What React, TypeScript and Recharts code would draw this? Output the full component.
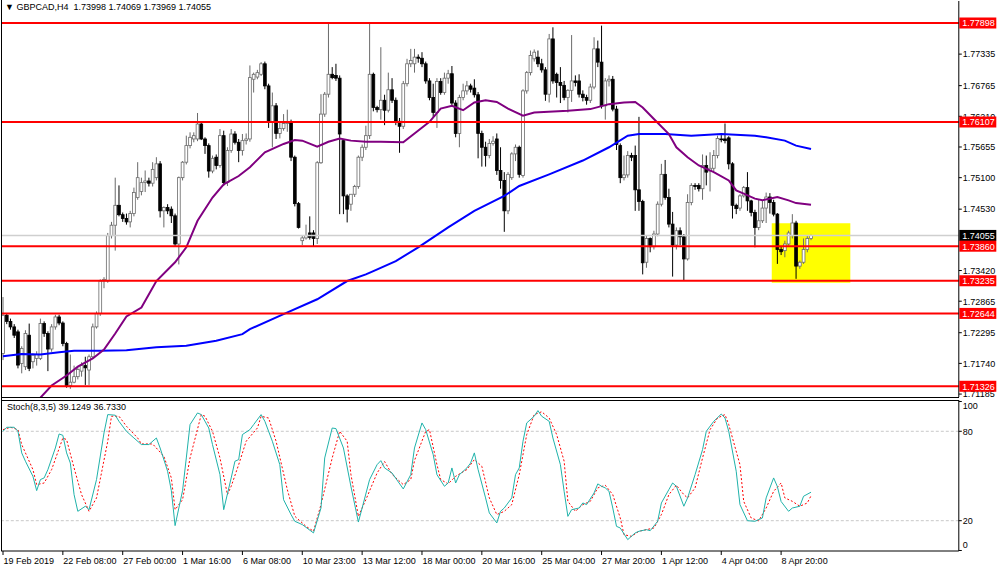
import React from 'react';
import { ComposedChart, Bar, Line, XAxis, YAxis, ReferenceLine, ReferenceArea } from 'recharts';

// [open, high, low, close] per H4 bar
const ohlc: number[][] = [
  [1.7192,1.7294,1.7180,1.7261],[1.7261,1.7265,1.7245,1.7250],[1.7250,1.7255,1.7235,1.7240],[1.7240,1.7245,1.7220,1.7225],
  [1.7231,1.7235,1.7165,1.7171],[1.7174,1.7205,1.7156,1.7201],[1.7168,1.7234,1.7162,1.7228],[1.7225,1.7246,1.7160,1.7165],
  [1.7177,1.7192,1.7165,1.7189],[1.7183,1.7196,1.7170,1.7190],[1.7183,1.7255,1.7180,1.7246],[1.7246,1.7250,1.7222,1.7228],
  [1.7228,1.7232,1.7160,1.7200],[1.7200,1.7245,1.7195,1.7240],[1.7240,1.7262,1.7235,1.7258],[1.7258,1.7262,1.7243,1.7247],
  [1.7247,1.7250,1.7205,1.7210],[1.7210,1.7213,1.7130,1.7134],[1.7134,1.7190,1.7128,1.7140],[1.7140,1.7170,1.7138,1.7150],
  [1.7150,1.7167,1.7145,1.7163],[1.7160,1.7176,1.7150,1.7170],[1.7170,1.7186,1.7135,1.7166],[1.7162,1.7190,1.7135,1.7186],
  [1.7186,1.7246,1.7183,1.7240],[1.7240,1.7268,1.7237,1.7264],[1.7264,1.7326,1.7260,1.7323],[1.7323,1.7330,1.7310,1.7326],
  [1.7323,1.7410,1.7320,1.7405],[1.7405,1.7430,1.7400,1.7424],[1.7424,1.7510,1.7378,1.7460],[1.7460,1.7496,1.7440,1.7443],
  [1.7443,1.7447,1.7430,1.7436],[1.7436,1.7445,1.7425,1.7430],[1.7430,1.7450,1.7420,1.7445],[1.7445,1.7492,1.7440,1.7483],
  [1.7474,1.7538,1.7470,1.7510],[1.7485,1.7510,1.7478,1.7501],[1.7501,1.7523,1.7484,1.7504],[1.7504,1.7510,1.7494,1.7500],
  [1.7500,1.7538,1.7494,1.7525],[1.7510,1.7547,1.7505,1.7535],[1.7535,1.7540,1.7438,1.7450],[1.7450,1.7458,1.7420,1.7456],
  [1.7456,1.7462,1.7444,1.7450],[1.7453,1.7458,1.7428,1.7441],[1.7441,1.7445,1.7385,1.7390],[1.7390,1.7512,1.7353,1.7510],
  [1.7510,1.7540,1.7505,1.7538],[1.7538,1.7586,1.7534,1.7568],[1.7568,1.7592,1.7563,1.7583],[1.7580,1.7592,1.7574,1.7586],
  [1.7580,1.7627,1.7576,1.7607],[1.7607,1.7610,1.7578,1.7580],[1.7580,1.7583,1.7553,1.7568],[1.7568,1.7572,1.7510,1.7522],
  [1.7522,1.7550,1.7518,1.7545],[1.7547,1.7552,1.7525,1.7532],[1.7532,1.7598,1.7528,1.7586],[1.7586,1.7595,1.7495,1.7501],
  [1.7501,1.7565,1.7495,1.7559],[1.7559,1.7598,1.7555,1.7589],[1.7589,1.7594,1.7570,1.7574],[1.7574,1.7580,1.7538,1.7559],
  [1.7559,1.7589,1.7550,1.7577],[1.7577,1.7590,1.7570,1.7580],[1.7580,1.7713,1.7575,1.7691],[1.7688,1.7700,1.7664,1.7697],
  [1.7692,1.7705,1.7688,1.7700],[1.7697,1.7719,1.7694,1.7716],[1.7716,1.7720,1.7670,1.7676],[1.7676,1.7680,1.7600,1.7610],
  [1.7610,1.7664,1.7565,1.7640],[1.7640,1.7645,1.7580,1.7590],[1.7590,1.7610,1.7581,1.7599],[1.7599,1.7625,1.7595,1.7608],
  [1.7608,1.7633,1.7593,1.7610],[1.7610,1.7615,1.7540,1.7547],[1.7547,1.7550,1.7458,1.7463],[1.7463,1.7466,1.7418,1.7420],
  [1.7396,1.7405,1.7388,1.7401],[1.7401,1.7425,1.7398,1.7405],[1.7410,1.7440,1.7398,1.7402],[1.7410,1.7415,1.7385,1.7400],
  [1.7400,1.7540,1.7390,1.7537],[1.7537,1.7661,1.7535,1.7625],[1.7625,1.7665,1.7620,1.7661],[1.7661,1.7788,1.7655,1.7697],
  [1.7697,1.7710,1.7688,1.7691],[1.7695,1.7716,1.7685,1.7690],[1.7690,1.7695,1.7444,1.7589],[1.7577,1.7580,1.7444,1.7477],
  [1.7477,1.7480,1.7429,1.7453],[1.7462,1.7480,1.7450,1.7480],[1.7480,1.7497,1.7475,1.7494],[1.7494,1.7550,1.7490,1.7547],
  [1.7547,1.7570,1.7540,1.7565],[1.7565,1.7604,1.7560,1.7586],[1.7586,1.7788,1.7580,1.7697],[1.7697,1.7700,1.7630,1.7637],
  [1.7637,1.7640,1.7628,1.7633],[1.7633,1.7746,1.7615,1.7650],[1.7650,1.7660,1.7605,1.7632],[1.7632,1.7700,1.7628,1.7669],
  [1.7669,1.7690,1.7645,1.7650],[1.7650,1.7655,1.7605,1.7612],[1.7612,1.7618,1.7555,1.7603],[1.7603,1.7685,1.7598,1.7680],
  [1.7680,1.7725,1.7675,1.7716],[1.7716,1.7743,1.7710,1.7722],[1.7716,1.7743,1.7700,1.7728],[1.7728,1.7733,1.7718,1.7726],
  [1.7726,1.7737,1.7710,1.7716],[1.7716,1.7720,1.7680,1.7685],[1.7685,1.7690,1.7650,1.7655],[1.7655,1.7680,1.7620,1.7628],
  [1.7628,1.7690,1.7600,1.7684],[1.7684,1.7690,1.7660,1.7664],[1.7664,1.7700,1.7660,1.7690],[1.7690,1.7705,1.7680,1.7698],
  [1.7698,1.7712,1.7640,1.7645],[1.7645,1.7650,1.7583,1.7590],[1.7590,1.7660,1.7565,1.7655],[1.7655,1.7680,1.7650,1.7667],
  [1.7667,1.7685,1.7660,1.7676],[1.7676,1.7680,1.7664,1.7670],[1.7672,1.7688,1.7655,1.7660],[1.7660,1.7665,1.7545,1.7590],
  [1.7590,1.7595,1.7530,1.7565],[1.7565,1.7575,1.7530,1.7550],[1.7550,1.7580,1.7545,1.7572],[1.7572,1.7585,1.7568,1.7576],
  [1.7580,1.7590,1.7515,1.7523],[1.7523,1.7565,1.7490,1.7505],[1.7505,1.7520,1.7412,1.7450],[1.7450,1.7520,1.7444,1.7516],
  [1.7510,1.7556,1.7506,1.7553],[1.7553,1.7570,1.7540,1.7565],[1.7565,1.7568,1.7510,1.7516],[1.7514,1.7670,1.7510,1.7667],
  [1.7667,1.7703,1.7662,1.7700],[1.7700,1.7740,1.7695,1.7731],[1.7725,1.7742,1.7720,1.7737],[1.7728,1.7740,1.7710,1.7716],
  [1.7716,1.7725,1.7700,1.7705],[1.7705,1.7710,1.7649,1.7661],[1.7661,1.7770,1.7646,1.7761],[1.7761,1.7782,1.7680,1.7685],
  [1.7697,1.7700,1.7655,1.7682],[1.7682,1.7710,1.7645,1.7677],[1.7677,1.7685,1.7650,1.7655],[1.7655,1.7670,1.7628,1.7668],
  [1.7668,1.7768,1.7647,1.7685],[1.7685,1.7695,1.7675,1.7682],[1.7685,1.7697,1.7655,1.7661],[1.7661,1.7668,1.7648,1.7655],
  [1.7655,1.7660,1.7642,1.7650],[1.7650,1.7680,1.7645,1.7674],[1.7674,1.7764,1.7670,1.7743],[1.7743,1.7758,1.7710,1.7719],
  [1.7719,1.7785,1.7635,1.7640],[1.7640,1.7690,1.7615,1.7685],[1.7685,1.7695,1.7675,1.7688],[1.7688,1.7694,1.7630,1.7634],
  [1.7634,1.7640,1.7560,1.7570],[1.7568,1.7572,1.7500,1.7510],[1.7510,1.7550,1.7505,1.7515],[1.7515,1.7558,1.7510,1.7550],
  [1.7550,1.7555,1.7540,1.7547],[1.7550,1.7568,1.7450,1.7488],[1.7488,1.7620,1.7450,1.7467],[1.7467,1.7470,1.7335,1.7356],
  [1.7357,1.7405,1.7347,1.7400],[1.7400,1.7402,1.7375,1.7385],[1.7385,1.7414,1.7380,1.7408],[1.7408,1.7467,1.7404,1.7462],
  [1.7462,1.7535,1.7458,1.7516],[1.7516,1.7542,1.7470,1.7474],[1.7474,1.7490,1.7420,1.7426],[1.7426,1.7448,1.7331,1.7388],
  [1.7388,1.7420,1.7380,1.7414],[1.7414,1.7420,1.7388,1.7403],[1.7403,1.7408,1.7323,1.7363],[1.7363,1.7480,1.7360,1.7465],
  [1.7465,1.7500,1.7460,1.7496],[1.7496,1.7500,1.7488,1.7494],[1.7496,1.7500,1.7485,1.7490],[1.7490,1.7552,1.7470,1.7532],
  [1.7532,1.7550,1.7496,1.7520],[1.7522,1.7556,1.7485,1.7527],[1.7527,1.7560,1.7522,1.7550],[1.7550,1.7586,1.7545,1.7581],
  [1.7580,1.7587,1.7574,1.7579],[1.7580,1.7608,1.7572,1.7577],[1.7582,1.7585,1.7525,1.7535],[1.7535,1.7538,1.7436,1.7460],
  [1.7460,1.7463,1.7444,1.7454],[1.7455,1.7480,1.7450,1.7477],[1.7477,1.7495,1.7474,1.7492],[1.7492,1.7520,1.7450,1.7468],
  [1.7468,1.7470,1.7440,1.7447],[1.7447,1.7452,1.7384,1.7420],[1.7420,1.7470,1.7415,1.7432],[1.7432,1.7468,1.7428,1.7455],
  [1.7455,1.7483,1.7428,1.7475],[1.7475,1.7482,1.7445,1.7465],[1.7465,1.7470,1.7440,1.7444],[1.7444,1.7446,1.7354,1.7380],
  [1.7380,1.7385,1.7370,1.7376],[1.7378,1.7396,1.7366,1.7390],[1.7390,1.7414,1.7387,1.7410],[1.7405,1.7444,1.7400,1.7428],
  [1.7428,1.7432,1.7327,1.7350],[1.7350,1.7360,1.7345,1.7357],[1.7357,1.7400,1.7354,1.7380],[1.7380,1.7405,1.7375,1.7400],
  [1.73998,1.74069,1.73969,1.74055],
];

// [bar index, value] samples of the moving averages
const purpleMA: number[][] = [
  [10,1.7112],[13,1.7134],[17,1.7152],[20,1.7168],[24,1.7183],[27,1.7199],[30,1.7228],[33,1.7259],[37,1.7275],[41,1.7323],
  [46,1.7357],[49,1.7384],[52,1.7432],[56,1.7474],[59,1.7498],[63,1.7513],[66,1.7529],[70,1.7556],[75,1.7571],[78,1.7578],
  [80,1.7577],[84,1.7566],[87,1.7575],[90,1.7581],[93,1.7577],[97,1.7575],[101,1.7575],[107,1.7574],[110,1.7590],[114,1.7611],
  [117,1.7635],[120,1.7640],[123,1.7632],[126,1.7646],[129,1.7650],[132,1.7647],[135,1.7635],[139,1.7622],[142,1.7628],
  [151,1.7631],[157,1.7634],[162,1.7643],[166,1.7646],[169,1.7647],[171,1.7637],[174,1.7616],[178,1.7589],[180,1.7565],
  [183,1.7547],[186,1.7532],[190,1.7520],[194,1.7505],[196,1.7487],[198,1.7481],[201,1.7472],[203,1.7469],[207,1.7475],
  [210,1.7469],[212,1.7464],[216,1.7461],
];
const blueMA: number[][] = [
  [0,1.7187],[5,1.7191],[10,1.7190],[15,1.7194],[19,1.7197],[26,1.7197],[33,1.7198],[41,1.7203],[49,1.7206],[57,1.7215],
  [64,1.7227],[66,1.7236],[75,1.7263],[84,1.7290],[92,1.7323],[97,1.7335],[99,1.7341],[105,1.7359],[111,1.7384],[119,1.7420],
  [126,1.7450],[134,1.7477],[138,1.7495],[146,1.7516],[155,1.7541],[162,1.7565],[167,1.7586],[170,1.7589],[177,1.7589],
  [184,1.7586],[192,1.7589],[201,1.7586],[204,1.7583],[209,1.7577],[212,1.7568],[216,1.7562],
];

// Stochastic (8,3,5): [bar index, value]
const stochK: number[][] = [
  [0,80],[1,82.7],[3,82.7],[4,80],[5,65.5],[6,59.9],[8,49.8],[9,40.2],[10,47.6],[11,48.7],[12,54.3],[14,68.8],[15,78.2],
  [16,77.3],[17,65.5],[18,58.7],[19,37.5],[20,26.3],[22,29.7],[23,27.4],[25,47.6],[27,78.9],[28,91.2],[30,90.8],[31,86.7],
  [33,80],[35,75.5],[37,71.1],[39,71.1],[41,75.5],[42,68.8],[44,53.2],[45,40.2],[46,16.7],[48,40.2],[49,62.1],[50,84.5],
  [52,92.3],[53,91.2],[55,82.2],[56,71.1],[58,50.9],[59,27.4],[61,48.7],[62,59.9],[63,61],[64,77.8],[66,81.1],[67,84.5],
  [69,91.2],[70,86.7],[72,73.3],[74,57.6],[75,34.1],[77,24.1],[78,19.6],[80,17.4],[83,11.8],[85,28.5],[86,62.1],[88,82.2],
  [89,81.8],[91,68.8],[93,43.1],[95,19.1],[96,28.5],[98,47.6],[100,57.6],[101,60.3],[102,55.4],[104,52],[107,41.3],[109,50.9],
  [110,68.8],[112,85.6],[113,81.1],[115,64.3],[116,50.9],[118,43.1],[119,45.3],[120,55.4],[121,45.3],[122,50.9],[124,55.4],
  [125,58.7],[126,65.5],[127,54.3],[129,35.3],[130,25.2],[132,18.5],[133,26.3],[134,28.5],[136,35.3],[137,50.9],[138,55.4],
  [139,73.3],[140,85.6],[142,90.1],[143,93.9],[144,90.1],[146,86.7],[147,75.5],[149,57.6],[150,39.7],[151,22.9],[152,27.4],
  [154,28.5],[155,31.9],[156,30.8],[158,38.6],[159,44.7],[160,43.1],[161,42],[162,39.7],[163,28.5],[164,16.2],[165,15.1],
  [167,7.3],[169,11.8],[170,12.9],[172,14],[173,13.3],[175,19.6],[176,31.9],[178,40.9],[179,45.3],[180,43.1],[182,29.7],
  [183,35.3],[185,50.9],[187,67.7],[188,80],[190,86.7],[192,91.6],[193,88.9],[194,80],[196,53.2],[197,30.8],[199,20],
  [201,19.6],[203,21.8],[204,35.3],[206,48.7],[207,42.9],[208,32.9],[210,26.3],[211,28.5],[213,29.7],[214,36.4],[216,39.1249],
];
const stochD: number[][] = [
  [0,81.1],[2,82.7],[4,81.1],[5,71.1],[8,54.3],[9,44.2],[11,45.3],[13,54.3],[16,75.5],[17,74.4],[19,55.4],[21,37.5],
  [23,26.3],[25,35.3],[28,73.3],[29,90.1],[31,90.1],[33,83.4],[36,75.5],[37,71.5],[40,71.5],[43,63.2],[45,48.7],[46,27.4],
  [48,34.1],[50,62.1],[53,91.2],[54,90.1],[56,80],[58,62.1],[60,37.5],[61,43.1],[63,57.6],[65,73.3],[68,82.2],[69,90.1],
  [71,88.9],[73,73.3],[76,40.9],[78,23],[81,16.2],[83,12.9],[85,30.8],[88,62.1],[90,80],[92,73.3],[93,51.1],[95,22.9],
  [97,34.1],[100,52],[102,59.7],[104,51.1],[107,44.2],[109,47.6],[110,60.4],[113,80],[114,81.1],[116,57.6],[117,47.6],
  [119,44.7],[121,49.8],[124,54.3],[126,61],[128,56.5],[130,35.3],[132,24.1],[134,26.3],[136,30.8],[138,50.9],[140,77.8],
  [142,91.2],[144,93.1],[146,88.9],[148,77.8],[150,59.9],[151,33],[153,26.3],[155,30.8],[157,33],[159,42],[161,43.8],
  [163,37.5],[165,21.8],[166,10.6],[168,9.5],[170,12.9],[172,14],[174,15.1],[176,24.1],[178,37.5],[180,43.8],[182,37.5],
  [183,35.3],[185,42],[187,62.1],[189,81.1],[191,88.9],[193,91.2],[194,84.5],[197,57.6],[198,33],[200,21.8],[202,19.9],
  [204,28.5],[206,39.7],[208,45.3],[209,35.3],[211,33],[213,29.7],[215,31.9],[216,36.733],
];

const redLevels = [1.77898, 1.76107, 1.7386, 1.73235, 1.72644, 1.71326];
const priceTicks = [1.77335, 1.76765, 1.7621, 1.75655, 1.751, 1.7453, 1.7342, 1.72865, 1.72295, 1.7174, 1.71185];
const lastPrice = 1.74055;
const stochTicks = [100, 80, 20, 0];
const stochLevels = [80, 20];
const dateLabels = ['19 Feb 2019', '22 Feb 08:00', '27 Feb 00:00', '1 Mar 16:00', '6 Mar 08:00', '10 Mar 23:00',
  '13 Mar 12:00', '18 Mar 00:00', '20 Mar 16:00', '25 Mar 04:00', '27 Mar 20:00', '1 Apr 12:00', '4 Apr 04:00', '8 Apr 20:00'];
const zoneBars = [206, 226];
const zonePrices = [1.7320, 1.74275];

const SLOTS = 256;
const FONT = "'Liberation Sans', Arial, sans-serif";
const AXIS_X = 1000 - 41.2;

const rows: any[] = Array.from({ length: SLOTS }, (_, i) => {
  const c = ohlc[i];
  return c
    ? { i, o: c[0], h: c[1], l: c[2], c: c[3], range: [c[2], c[1]] }
    : { i, range: null };
});
purpleMA.forEach(([b, v]) => { rows[b].pma = v; });
blueMA.forEach(([b, v]) => { rows[b].bma = v; });
stochK.forEach(([b, v]) => { rows[b].k = v; });
stochD.forEach(([b, v]) => { rows[b].d = v; });

const Candle = (props: any) => {
  const { x, y, width, height, payload } = props;
  if (!payload || payload.o == null || !isFinite(y) || !isFinite(height)) return null;
  const { o, h, l, c } = payload;
  const top = Math.min(y, y + height);
  const bottom = Math.max(y, y + height);
  const span = h - l;
  const ppu = span > 0 ? (bottom - top) / span : 0;
  const py = (p: number) => top + (h - p) * ppu;
  const cx = x + width / 2;
  const bull = c >= o;
  const yo = py(o), yc = py(c);
  const bt = Math.min(yo, yc);
  const bh = Math.max(Math.abs(yo - yc), 0.8);
  const col = bull ? '#6a6a6a' : '#000000';
  return (
    <g>
      <line x1={cx} x2={cx} y1={top} y2={bottom} stroke={col} strokeWidth={1} />
      <rect x={cx - 1.4} y={bt} width={2.8} height={bh} fill={bull ? '#ffffff' : '#000000'} stroke={col} strokeWidth={0.8} />
    </g>
  );
};

const PriceTick = (props: any) => {
  const { y, payload } = props;
  const v = payload.value;
  const label = Number(v).toFixed(5);
  const isRed = redLevels.some((r) => Math.abs(r - v) < 1e-7);
  const isLast = Math.abs(v - lastPrice) < 1e-7;
  if (isRed || isLast) {
    return (
      <g>
        <rect x={AXIS_X + 0.5} y={y - 5.5} width={37} height={11} fill={isRed ? '#ff0000' : '#000000'} />
        <text x={AXIS_X + 3.5} y={y + 3.3} fontSize={9} fontFamily={FONT} fill="#ffffff">{label}</text>
      </g>
    );
  }
  return (
    <g>
      <line x1={AXIS_X} x2={AXIS_X + 3} y1={y} y2={y} stroke="#000" />
      <text x={AXIS_X + 4} y={y + 3.3} fontSize={9} fontFamily={FONT} fill="#000">{label}</text>
    </g>
  );
};

const StochTick = (props: any) => {
  const { y, payload } = props;
  const v = payload.value;
  const dy = v === 100 ? 4 : v === 0 ? -6 : 0;
  return (
    <g>
      <line x1={AXIS_X} x2={AXIS_X + 3} y1={y} y2={y} stroke="#000" />
      <text x={AXIS_X + 4} y={y + dy + 3.3} fontSize={9} fontFamily={FONT} fill="#000">{String(v)}</text>
    </g>
  );
};

const DateTick = (props: any) => {
  const { x, payload } = props;
  const v = Number(payload.value);
  if (v % 16 !== 0) return null;
  const idx = v / 16;
  if (idx >= dateLabels.length) return null;
  return (
    <g>
      <line x1={x} x2={x} y1={153} y2={157} stroke="#000" />
      <text x={x + 0.5} y={165.5} fontSize={9} fontFamily={FONT} fill="#000">{dateLabels[idx]}</text>
    </g>
  );
};

const textStyle: React.CSSProperties = {
  position: 'absolute', fontFamily: FONT, fontSize: 9, color: '#000', whiteSpace: 'pre', lineHeight: '11px',
};

export default function App() {
  return (
    <div style={{ position: 'absolute', left: 0, top: 0, width: 1000, height: 571, background: '#fff', overflow: 'hidden' }}>
      <div style={{ position: 'absolute', left: 0, top: 0 }}>
        <ComposedChart width={1000} height={397} data={rows} margin={{ top: 1, right: 0, bottom: 0, left: 1.13 }}>
          <XAxis dataKey="i" type="category" scale="band" hide />
          <YAxis
            orientation="right" width={41.2} type="number" domain={[1.71132, 1.78296]} allowDataOverflow
            ticks={[...priceTicks, lastPrice, ...redLevels]} interval={0} tick={<PriceTick />} tickLine={false}
            axisLine={{ stroke: '#000' }}
          />
          <ReferenceArea x1={zoneBars[0]} x2={zoneBars[1]} y1={zonePrices[0]} y2={zonePrices[1]} fill="#ffff00" fillOpacity={1} stroke="none" ifOverflow="visible" />
          <ReferenceLine y={lastPrice} stroke="#cfcfcf" strokeWidth={1.5} />
          <Bar dataKey="range" shape={(p: any) => <Candle {...p} />} isAnimationActive={false} />
          <Line dataKey="bma" stroke="#0000ff" strokeWidth={2} dot={false} connectNulls isAnimationActive={false} />
          <Line dataKey="pma" stroke="#800080" strokeWidth={2} dot={false} connectNulls isAnimationActive={false} />
          {redLevels.map((r) => (
            <ReferenceLine key={r} y={r} stroke="#ff0000" strokeWidth={2} />
          ))}
        </ComposedChart>
      </div>
      <div style={{ position: 'absolute', left: 0, top: 398 }}>
        <ComposedChart width={1000} height={173} data={rows} margin={{ top: 2, right: 0, bottom: 0, left: 1.13 }}>
          <XAxis dataKey="i" type="category" scale="band" height={20} interval={15} tick={<DateTick />} tickLine={false} axisLine={{ stroke: '#000' }} />
          <YAxis
            orientation="right" width={41.2} type="number" domain={[-0.34, 101]} allowDataOverflow
            ticks={stochTicks} interval={0} tick={<StochTick />} tickLine={false} axisLine={{ stroke: '#000' }}
          />
          {stochLevels.map((lv) => (
            <ReferenceLine key={lv} y={lv} stroke="#c8c8c8" strokeDasharray="3 2" />
          ))}
          <Line dataKey="d" stroke="#ff0000" strokeWidth={1} strokeDasharray="2 2" dot={false} connectNulls isAnimationActive={false} />
          <Line dataKey="k" stroke="#20b2aa" strokeWidth={1} dot={false} connectNulls isAnimationActive={false} />
        </ComposedChart>
      </div>
      {/* panel frames */}
      <div style={{ position: 'absolute', left: 1, top: 0, width: 1, height: 551, background: '#000' }} />
      <div style={{ position: 'absolute', left: 1, top: 397, width: 958, height: 1, background: '#000' }} />
      <div style={{ position: 'absolute', left: 1, top: 400, width: 958, height: 1, background: '#000' }} />
      <div style={{ ...textStyle, left: 5, top: 2 }}>{'\u25BC GBPCAD,H4  1.73998 1.74069 1.73969 1.74055'}</div>
      <div style={{ ...textStyle, left: 7, top: 402 }}>{'Stoch(8,3,5) 39.1249 36.7330'}</div>
    </div>
  );
}
